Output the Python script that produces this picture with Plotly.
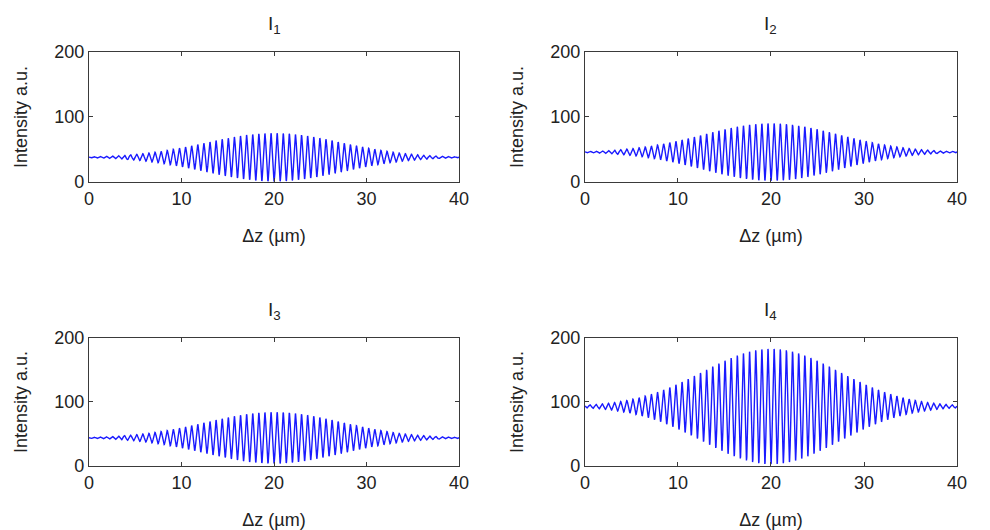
import numpy as np
import plotly.graph_objects as go

# ---- values ----
panel_titles = ["I<sub>1</sub>", "I<sub>2</sub>", "I<sub>3</sub>", "I<sub>4</sub>"]
baseline = [38, 46, 44, 93]            # mean intensity far from zero OPD
fringe_amplitude = [37, 44, 40, 90]    # modulation amplitude at the envelope peak
envelope_center = 20.0                 # µm
envelope_sigma = 7.3                   # µm
fringe_period = 0.66                   # µm
x_ticks = [0, 10, 20, 30, 40]
y_ticks = [0, 100, 200]
x_label = "Δz (µm)"
y_label = "Intensity a.u."

dz = np.linspace(0, 40, 6001)

x_domains = [[0.0818, 0.4556], [0.5828, 0.9586]]
y_domains = [[0.6717, 0.9170], [0.1358, 0.3774]]

fig = go.Figure()
font_family = "Liberation Sans, Arial, sans-serif"
axis_color = "#3a3a3a"

for i in range(4):
    row, col = divmod(i, 2)
    env = np.exp(-((dz - envelope_center) ** 2) / (2 * envelope_sigma ** 2))
    intensity = baseline[i] - fringe_amplitude[i] * env * np.cos(2 * np.pi * (dz - envelope_center) / fringe_period)
    xa = "x" if i == 0 else f"x{i+1}"
    ya = "y" if i == 0 else f"y{i+1}"
    fig.add_trace(go.Scatter(x=dz, y=intensity, mode="lines",
                             line=dict(color="#1a1aff", width=1.4),
                             xaxis=xa, yaxis=ya, showlegend=False, hoverinfo="skip"))
    xkey = "xaxis" if i == 0 else f"xaxis{i+1}"
    ykey = "yaxis" if i == 0 else f"yaxis{i+1}"
    common = dict(showline=True, linecolor=axis_color, linewidth=1, mirror="ticks",
                  ticks="inside", ticklen=4, tickcolor=axis_color, showgrid=False,
                  zeroline=False, automargin=False,
                  tickfont=dict(size=18, color="#222", family=font_family))
    fig.update_layout({
        xkey: dict(common, domain=x_domains[col], anchor=ya, range=[0, 40],
                   tickvals=x_ticks,
                   title=dict(text=x_label, font=dict(size=18, color="#222", family=font_family), standoff=21)),
        ykey: dict(common, domain=y_domains[row], anchor=xa, range=[0, 200],
                   tickvals=y_ticks,
                   title=dict(text=y_label, font=dict(size=18, color="#222", family=font_family), standoff=22)),
    })
    fig.add_annotation(text=panel_titles[i], xref="paper", yref="paper",
                       x=(x_domains[col][0] + x_domains[col][1]) / 2,
                       y=y_domains[row][1] + 0.025, xanchor="center", yanchor="bottom",
                       showarrow=False, font=dict(size=19, color="#222", family=font_family))

fig.update_layout(width=990, height=530, margin=dict(l=0, r=0, t=0, b=0),
                  paper_bgcolor="white", plot_bgcolor="white")

fig.write_html("out.html")
